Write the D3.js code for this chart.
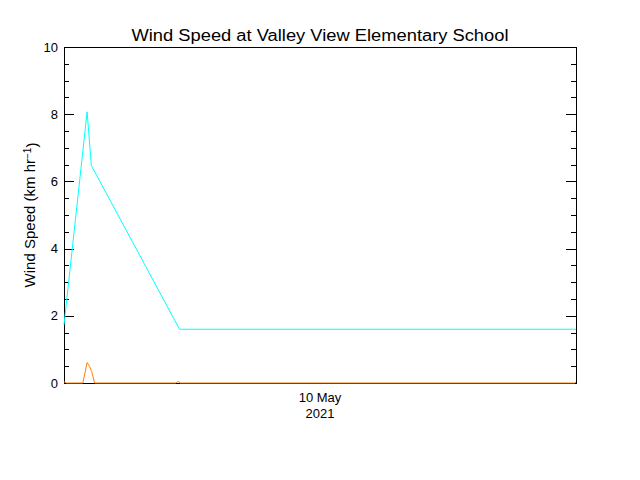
<!DOCTYPE html>
<html>
<head>
<meta charset="utf-8">
<script src="https://cdn.jsdelivr.net/npm/d3@7"></script>
<style>
  body { margin: 0; background: #fff; }
  text { font-family: "Liberation Sans", "DejaVu Sans", sans-serif; fill: #000; }
</style>
</head>
<body>
<div id="chart"></div>
<script>
// chart values
var title = "Wind Speed at Valley View Elementary School";
var dateLabel = ["10 May", "2021"];
var yTicks = [0, 2, 4, 6, 8, 10];

// cyan series: minutes after 10 May 00:00, km/h
var cyanMinutes = [0, 65, 77, 325, 1440];
var cyanValues  = [1.73, 8.07, 6.47, 1.60, 1.60];

// orange series
var orangeMinutes = [0, 3, 6, 53, 65, 72, 78, 86, 315, 321, 327, 1436, 1440];
var orangeValues  = [0.03, 0.03, 0, 0, 0.61, 0.49, 0.34, 0, 0, 0.05, 0, 0, 0.03];

var width = 640, height = 480;
var margin = {top: 47, right: 64, bottom: 97, left: 64};

var svg = d3.select("#chart").append("svg")
  .attr("width", width)
  .attr("height", height);

var t0 = new Date(2021, 4, 10, 0, 0);
var t1 = new Date(2021, 4, 11, 0, 0);
function toDate(m) { return new Date(t0.getTime() + m * 60000); }

var x = d3.scaleTime()
  .domain([t0, t1])
  .range([margin.left, width - margin.right]);

var y = d3.scaleLinear()
  .domain([0, 10])
  .range([height - margin.bottom, margin.top]);

// y axis left and right, major every 2, minor every 0.5
var minor = d3.range(0, 10.01, 0.5);

var left = svg.append("g").attr("transform", "translate(" + margin.left + ",0)");
left.selectAll("line.tick").data(minor).enter().append("line")
  .attr("x1", 0)
  .attr("x2", function(d) { return d % 2 === 0 ? 10 : 5; })
  .attr("y1", function(d) { return Math.round(y(d)) + 0.5; })
  .attr("y2", function(d) { return Math.round(y(d)) + 0.5; })
  .attr("stroke", "#000")
  .attr("shape-rendering", "crispEdges");
left.selectAll("text").data(yTicks).enter().append("text")
  .attr("x", -6)
  .attr("y", function(d) { return y(d); })
  .attr("dy", "0.35em")
  .attr("text-anchor", "end")
  .style("font-size", "13px")
  .text(function(d) { return d; });

var right = svg.append("g").attr("transform", "translate(" + (width - margin.right) + ",0)");
right.selectAll("line").data(minor).enter().append("line")
  .attr("x1", 0)
  .attr("x2", function(d) { return d % 2 === 0 ? -10 : -5; })
  .attr("y1", function(d) { return Math.round(y(d)) + 0.5; })
  .attr("y2", function(d) { return Math.round(y(d)) + 0.5; })
  .attr("stroke", "#000")
  .attr("shape-rendering", "crispEdges");

// frame
svg.append("rect")
  .attr("x", margin.left)
  .attr("y", margin.top)
  .attr("width", width - margin.left - margin.right)
  .attr("height", height - margin.top - margin.bottom)
  .attr("fill", "none")
  .attr("stroke", "#000")
  .attr("shape-rendering", "crispEdges");

// date label under the axis (no tick marks)
var mid = new Date(2021, 4, 10, 12, 0);
svg.append("g").selectAll("text").data(dateLabel).enter().append("text")
  .attr("x", x(mid))
  .attr("y", function(d, i) { return 402 + i * 16; })
  .attr("text-anchor", "middle")
  .style("font-size", "13px")
  .text(function(d) { return d; });

// lines
var line = d3.line()
  .x(function(d) { return x(toDate(d[0])); })
  .y(function(d) { return y(d[1]); });

svg.append("path")
  .datum(d3.zip(cyanMinutes, cyanValues))
  .attr("d", line)
  .attr("fill", "none")
  .attr("stroke", "#00ffff")
  .attr("stroke-width", 1);

svg.append("path")
  .datum(d3.zip(orangeMinutes, orangeValues))
  .attr("d", line)
  .attr("fill", "none")
  .attr("stroke", "#ff7f00")
  .attr("stroke-width", 1);

// title
svg.append("text")
  .attr("x", 320)
  .attr("y", 41)
  .attr("text-anchor", "middle")
  .attr("textLength", 377)
  .attr("lengthAdjust", "spacingAndGlyphs")
  .style("font-size", "16px")
  .text(title);

// y label with superscript
var yl = svg.append("text")
  .attr("transform", "translate(35," + y(5) + ") rotate(-90)")
  .attr("text-anchor", "middle")
  .style("font-size", "15px");
yl.append("tspan").text("Wind Speed (km hr");
yl.append("tspan").attr("dy", "-0.45em").style("font-size", "10px").text("\u22121");
yl.append("tspan").attr("dy", "0.45em").text(")");
</script>
</body>
</html>
